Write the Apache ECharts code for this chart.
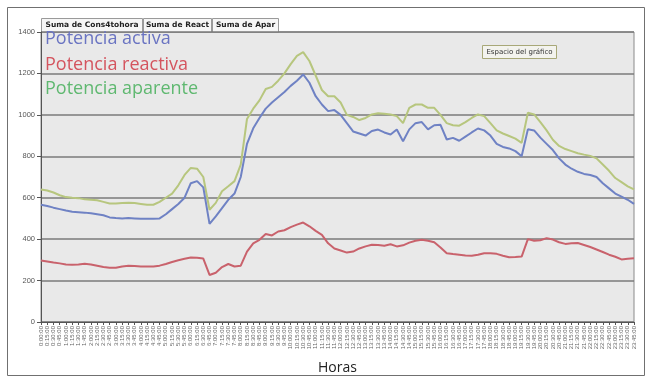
<!DOCTYPE html>
<html><head><meta charset="utf-8">
<script src="https://cdn.jsdelivr.net/npm/echarts@6/dist/echarts.min.js"></script>
<style>html,body{margin:0;padding:0;background:#fff}#c{width:650px;height:380px}</style>
</head><body><div id="c"></div>
<script>
var horas = ["0:00:00","0:15:00","0:30:00","0:45:00","1:00:00","1:15:00","1:30:00","1:45:00",
"2:00:00","2:15:00","2:30:00","2:45:00","3:00:00","3:15:00","3:30:00","3:45:00",
"4:00:00","4:15:00","4:30:00","4:45:00","5:00:00","5:15:00","5:30:00","5:45:00",
"6:00:00","6:15:00","6:30:00","6:45:00","7:00:00","7:15:00","7:30:00","7:45:00",
"8:00:00","8:15:00","8:30:00","8:45:00","9:00:00","9:15:00","9:30:00","9:45:00",
"10:00:00","10:15:00","10:30:00","10:45:00","11:00:00","11:15:00","11:30:00","11:45:00",
"12:00:00","12:15:00","12:30:00","12:45:00","13:00:00","13:15:00","13:30:00","13:45:00",
"14:00:00","14:15:00","14:30:00","14:45:00","15:00:00","15:15:00","15:30:00","15:45:00",
"16:00:00","16:15:00","16:30:00","16:45:00","17:00:00","17:15:00","17:30:00","17:45:00",
"18:00:00","18:15:00","18:30:00","18:45:00","19:00:00","19:15:00","19:30:00","19:45:00",
"20:00:00","20:15:00","20:30:00","20:45:00","21:00:00","21:15:00","21:30:00","21:45:00",
"22:00:00","22:15:00","22:30:00","22:45:00","23:00:00","23:15:00","23:30:00","23:45:00"];

var potenciaActiva = [566,560,552,545,538,532,530,528,525,520,515,505,502,500,502,500,
498,498,498,500,520,545,570,600,670,680,650,474,510,550,590,620,
700,860,935,985,1030,1060,1085,1110,1140,1165,1195,1155,1090,1050,1018,1023,
1000,960,920,910,900,922,929,915,905,929,873,930,960,965,930,950,
952,881,889,875,895,915,934,925,900,860,845,838,825,800,930,925,
890,860,830,790,760,740,725,715,710,700,670,645,620,605,590,570];

var potenciaReactiva = [297,292,287,283,278,276,278,281,278,272,266,262,262,268,271,270,
268,268,268,272,280,290,298,305,311,310,306,227,238,265,280,268,
272,340,380,397,425,418,437,443,458,470,480,462,440,421,380,355,
345,335,340,355,365,373,372,368,375,365,370,383,392,397,392,385,
360,332,328,325,321,320,325,332,332,329,320,313,314,316,400,392,
395,405,398,385,377,380,381,372,362,350,338,325,315,302,305,308];

var potenciaAparente = [640,635,625,612,603,600,598,592,590,588,580,572,572,575,576,574,
570,566,566,580,600,620,660,710,744,740,700,542,575,631,655,680,
760,980,1030,1070,1125,1135,1165,1200,1245,1285,1303,1260,1190,1120,1090,1090,
1060,1000,990,975,985,1002,1008,1005,1002,994,960,1034,1050,1050,1034,1034,
1000,960,950,948,965,985,1002,994,960,925,910,898,885,865,1010,1002,
965,925,880,850,835,825,815,808,802,790,760,730,695,675,655,640];

var nombres = ["Potencia activa","Potencia reactiva","Potencia aparente"];
var botones = ["Suma de Cons4tohora","Suma de React","Suma de Apar"];
var colores = ["#6f82c4","#c9626c","#b7c67e"];
var coloresTexto = ["#6a74c2","#d4545e","#5fb870"];

var chart = echarts.init(document.getElementById('c'), null, {renderer:'canvas'});

function boton(x, w, t) {
  return {type:'group', left:x, top:18, children:[
    {type:'rect', shape:{x:0,y:0,width:w,height:14}, style:{fill:'#f6f6f6', stroke:'#9a9a9a', lineWidth:1}},
    {type:'text', x:w/2, y:7, style:{text:t, fill:'#222', font:'bold 7.5px "DejaVu Sans"', align:'center', verticalAlign:'middle'}}
  ]};
}

var graphic = [
  {type:'rect', shape:{x:7.5,y:7.5,width:637,height:368}, style:{fill:'none', stroke:'#707070', lineWidth:1}, z:-1},
  boton(41, 101, botones[0]),
  boton(143, 68, botones[1]),
  boton(212, 66, botones[2]),
  {type:'text', left:45, top:30, style:{text:nombres[0], fill:coloresTexto[0], font:'18px "Open Sans"'}, z:10},
  {type:'text', left:45, top:56, style:{text:nombres[1], fill:coloresTexto[1], font:'18px "Open Sans"'}, z:10},
  {type:'text', left:45, top:80, style:{text:nombres[2], fill:coloresTexto[2], font:'18px "Open Sans"'}, z:10},
  {type:'group', left:482, top:45, z:10, children:[
    {type:'rect', shape:{x:0,y:0,width:74,height:13}, style:{fill:'#f3f3ee', stroke:'#a8a878', lineWidth:1}},
    {type:'text', x:37, y:6.5, style:{text:'Espacio del gráfico', fill:'#333', font:'7px "DejaVu Sans"', align:'center', verticalAlign:'middle'}}
  ]}
];

var option = {
  backgroundColor:'#ffffff',
  animation:false,
  graphic: graphic,
  grid:{left:41, top:32, right:16, bottom:58, show:true, backgroundColor:'#e9e9e9', borderColor:'#8a8a8a', borderWidth:1},
  xAxis:{
    type:'category', data:horas, boundaryGap:false,
    name:'Horas', nameLocation:'middle', nameGap:39,
    nameTextStyle:{fontSize:14, color:'#222', fontFamily:'Open Sans'},
    axisLine:{lineStyle:{color:'#555', width:1}},
    axisTick:{show:true, interval:0, length:3, lineStyle:{color:'#555'}},
    axisLabel:{interval:0, rotate:90, fontSize:6, color:'#666', fontFamily:'Liberation Sans', margin:4},
    splitLine:{show:false}
  },
  yAxis:{
    type:'value', min:0, max:1400, interval:200,
    axisLine:{show:true, lineStyle:{color:'#555', width:1}},
    axisTick:{show:true, length:4, lineStyle:{color:'#555'}},
    axisLabel:{fontSize:7.5, color:'#555', fontFamily:'Liberation Sans', margin:6, formatter:function(v){return String(v);}},
    splitLine:{show:true, lineStyle:{color:'#7a7a7a', width:1.5}}
  },
  series:[
    {name:nombres[0], type:'line', data:potenciaActiva, symbol:'none', lineStyle:{color:colores[0], width:2}, z:4},
    {name:nombres[1], type:'line', data:potenciaReactiva, symbol:'none', lineStyle:{color:colores[1], width:2}, z:3},
    {name:nombres[2], type:'line', data:potenciaAparente, symbol:'none', lineStyle:{color:colores[2], width:2}, z:2}
  ]
};
chart.setOption(option);
</script></body></html>
